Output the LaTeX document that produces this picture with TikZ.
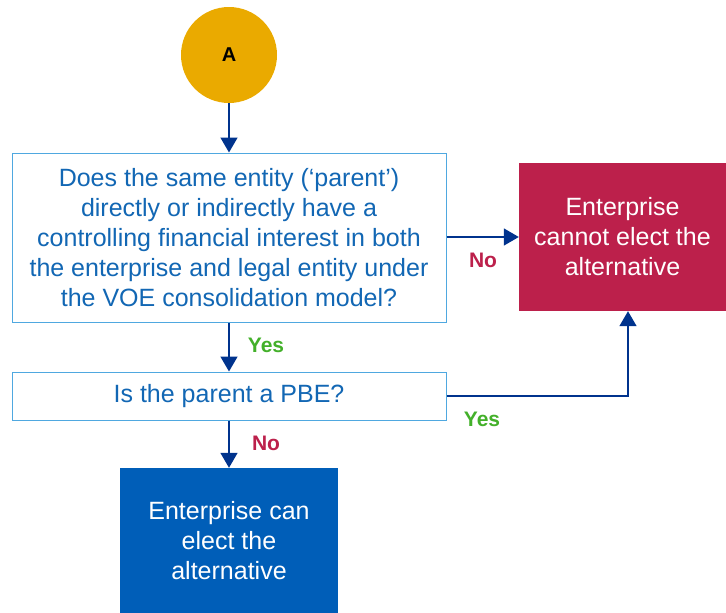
\documentclass[tikz,border=0pt]{standalone}
\usepackage{fontspec}
\setmainfont{Liberation Sans}
\usetikzlibrary{arrows.meta,positioning}
\definecolor{kgold}{HTML}{EAAA00}
\definecolor{kline}{HTML}{4FA8E0}
\definecolor{ktext}{HTML}{1267B4}
\definecolor{kred}{HTML}{BC204B}
\definecolor{kblue}{HTML}{005EB8}
\definecolor{karrow}{HTML}{00338D}
\definecolor{kgreen}{HTML}{43B02A}
\tikzset{
  qbox/.style={draw=kline, line width=1pt, fill=white, text=ktext, align=center, inner sep=0pt, font=\fontsize{25}{30}\selectfont},
  endbox/.style={fill=#1, text=white, align=center, inner sep=0pt, font=\fontsize{25}{30}\selectfont},
  conn/.style={draw=karrow, line width=1.6pt, -{Triangle[length=15pt,width=17pt]}},
  lab/.style={font=\bfseries\fontsize{21}{22}\selectfont, inner sep=0pt}
}
\begin{document}
\begin{tikzpicture}[x=1pt,y=-1pt]
\useasboundingbox (0,0) rectangle (726,613);
\node[circle, fill=kgold, minimum size=96pt, inner sep=0pt, font=\bfseries\fontsize{20}{22}\selectfont] (A) at (229,55) {A};
\node[qbox, minimum width=434pt, minimum height=169pt] (Q1) at (229,237.5) {Does the same entity (‘parent’)\\directly or indirectly have a\\controlling financial interest in both\\the enterprise and legal entity under\\the VOE consolidation model?};
\node[endbox=kred, minimum width=207pt, minimum height=148pt] (R) at (622.5,237) {Enterprise\\cannot elect the\\alternative};
\node[qbox, minimum width=434pt, minimum height=48pt] (Q2) at (229,396) {Is the parent a PBE?};
\node[endbox=kblue, minimum width=218pt, minimum height=145pt] (B) at (229,540.5) {Enterprise can\\elect the\\alternative};
\draw[conn] (A) -- (Q1);
\draw[conn] (Q1.east |- R.west) -- (R.west);
\draw[conn] (Q1) -- (Q2);
\draw[conn] (Q2) -- (B);
\coordinate (c1) at (628,396);
\draw[conn] (Q2.east) -- (c1) -- (c1 |- R.south);
\node[lab, text=kred] (n1) at (483,260) {No};
\node[lab, text=kgreen] (y1) at (266,345) {Yes};
\node[lab, text=kred] (n2) at (266,443) {No};
\node[lab, text=kgreen] (y2) at (482,419) {Yes};
\end{tikzpicture}
\end{document}
